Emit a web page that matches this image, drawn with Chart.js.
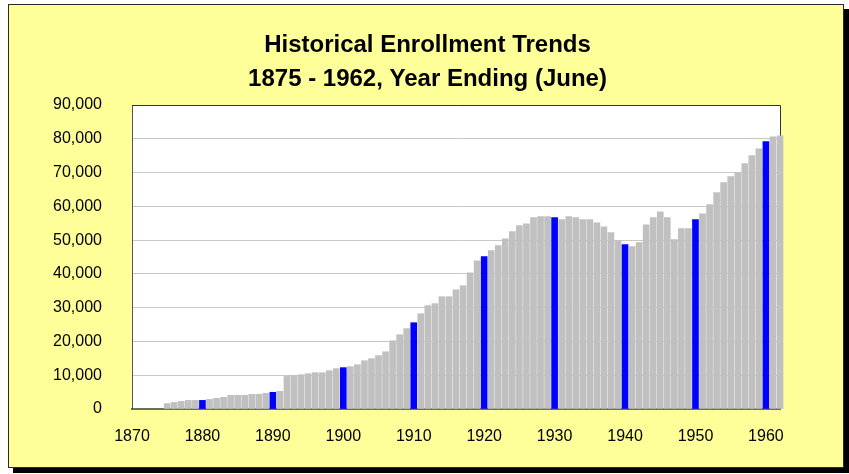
<!DOCTYPE html>
<html>
<head>
<meta charset="utf-8">
<script src="https://cdn.jsdelivr.net/npm/chart.js@4.4.1/dist/chart.umd.min.js"></script>
<style>
  html, body { margin: 0; padding: 0; background: #ffffff; }
  #wrap { position: relative; width: 849px; height: 474px; overflow: hidden; }
  #frame { position: absolute; left: 8px; top: 4px; width: 836px; height: 464px; box-sizing: border-box;
           background: #FFFF99; border: 1px solid #2a2a2a; box-shadow: 5px 5px 0 #000; }
  #c { position: absolute; left: 0; top: 0; }
</style>
</head>
<body>
<div id="wrap">
  <div id="frame"></div>
  <canvas id="c" width="849" height="474"></canvas>
</div>
<script>
const titleLines = ['Historical Enrollment Trends', '1875 - 1962, Year Ending (June)'];

const years = [
  1870,1871,1872,1873,1874,1875,1876,1877,1878,1879,
  1880,1881,1882,1883,1884,1885,1886,1887,1888,1889,
  1890,1891,1892,1893,1894,1895,1896,1897,1898,1899,
  1900,1901,1902,1903,1904,1905,1906,1907,1908,1909,
  1910,1911,1912,1913,1914,1915,1916,1917,1918,1919,
  1920,1921,1922,1923,1924,1925,1926,1927,1928,1929,
  1930,1931,1932,1933,1934,1935,1936,1937,1938,1939,
  1940,1941,1942,1943,1944,1945,1946,1947,1948,1949,
  1950,1951,1952,1953,1954,1955,1956,1957,1958,1959,
  1960,1961,1962
];

const enrollment = [
  null,null,null,null,null,1600,1950,2250,2550,2550,
  2550,2850,3150,3450,4050,4050,4050,4350,4350,4650,
  4950,5250,9650,9950,10150,10450,10750,10750,11340,11950,
  12250,12550,13100,14300,14900,15800,16950,20200,22000,23800,
  25550,28200,30600,31200,33250,33250,35300,36500,40350,43900,
  45100,46900,48350,50400,52500,54300,54850,56650,56950,56950,
  56650,56050,56950,56650,56050,56050,55150,53950,52200,49850,
  48650,48050,49250,54550,56650,58400,56650,50150,53400,53400,
  56050,57800,60500,64050,67000,68800,69950,72650,75000,77050,
  79150,80600,80900
];

const yTicks = [0,10000,20000,30000,40000,50000,60000,70000,80000,90000];

const barColors = years.map(y => (y % 10 === 0) ? '#0000FF' : '#C0C0C0');

const plotFrame = {
  id: 'plotFrame',
  beforeDraw(chart) {
    const {ctx, chartArea: a} = chart;
    ctx.save();
    ctx.fillStyle = '#FFFFFF';
    ctx.fillRect(a.left, a.top, a.right - a.left, a.bottom - a.top);
    ctx.restore();
  },
  beforeDatasetsDraw(chart) {
    const {ctx, chartArea: a} = chart;
    ctx.save();
    ctx.strokeStyle = '#333333';
    ctx.lineWidth = 1;
    ctx.beginPath();
    ctx.moveTo(a.left, a.top + 0.5);
    ctx.lineTo(a.right + 0.5, a.top + 0.5);
    ctx.lineTo(a.right + 0.5, a.bottom);
    ctx.stroke();
    ctx.restore();
  }
};

const FONT = "'Liberation Sans', Arial, sans-serif";

new Chart(document.getElementById('c'), {
  type: 'bar',
  data: {
    labels: years,
    datasets: [{
      data: enrollment,
      backgroundColor: barColors,
      borderWidth: 0,
      barThickness: 6,
      clip: false
    }]
  },
  options: {
    responsive: false,
    animation: false,
    layout: { padding: { left: 40, right: 34, top: 0, bottom: 25 } },
    plugins: {
      legend: { display: false },
      tooltip: { enabled: false },
      title: {
        display: true,
        text: titleLines,
        color: '#000000',
        font: { family: FONT, size: 24, weight: 'bold', lineHeight: 34 / 24 },
        padding: { top: 28, bottom: 9 }
      }
    },
    scales: {
      x: {
        type: 'category',
        offset: false,
        grid: { display: false, drawTicks: false },
        border: { display: true, color: '#6e6e5a', width: 2 },
        ticks: {
          autoSkip: false,
          maxRotation: 0,
          minRotation: 0,
          padding: 18,
          color: '#000000',
          font: { family: FONT, size: 16 },
          callback: function(v, i) { const y = years[i]; return (y % 10 === 0) ? String(y) : ''; }
        },
        afterFit: s => { s.height = 40; }
      },
      y: {
        min: 0,
        max: 90000,
        grid: { color: '#C8C8C8', lineWidth: 1, drawTicks: false },
        border: { display: true, color: '#555555', width: 1 },
        afterBuildTicks: s => { s.ticks = yTicks.map(v => ({ value: v })); },
        ticks: {
          padding: 30,
          color: '#000000',
          font: { family: FONT, size: 16 },
          callback: v => Number(v).toLocaleString('en-US')
        },
        afterFit: s => { s.width = 92; }
      },
      yRightSpacer: {
        position: 'right',
        display: true,
        grid: { display: false, drawTicks: false },
        border: { display: false },
        ticks: { display: false },
        afterFit: s => { s.width = 35; }
      }
    }
  },
  plugins: [plotFrame]
});
</script>
</body>
</html>
